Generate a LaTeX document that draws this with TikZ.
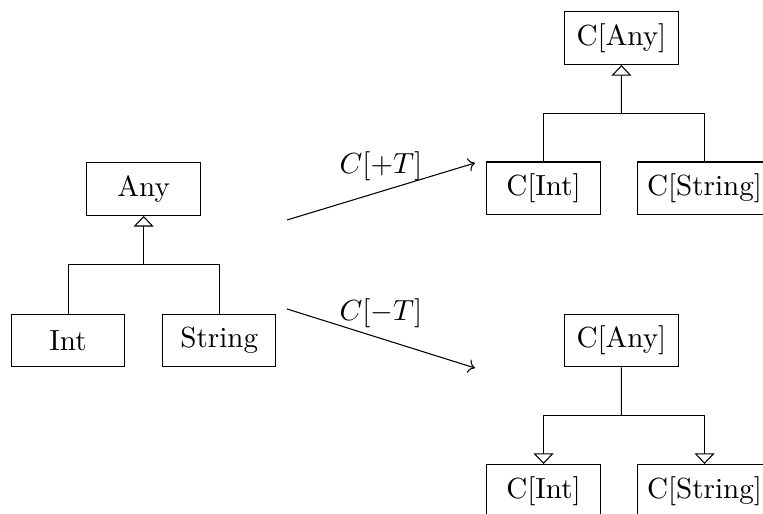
\documentclass[tikz,border=0pt]{standalone}
\usepackage{amsmath}
\usetikzlibrary{arrows, arrows.meta}
\usetikzlibrary{calc}

\tikzset{
  typebox/.style={rectangle, draw, minimum width=1.5cm, minimum height=0.7cm},
  extends/.style={-{Triangle[open, width=7.5pt, length=4pt]}}
}

\begin{document}
\fontsize{10.95pt}{13.6pt}\selectfont
\begin{tikzpicture}
  \useasboundingbox (0,0) rectangle (10.093,6.799);

  \node[typebox] (any) at (1.9,4.3) {Any};
  \node[typebox] (int) at (0.9,2.295) {Int};
  \node[typebox] (string) at (2.9,2.295) {String};

  \node[typebox] (covany) at (8.22,6.296) {C[Any]};
  \node[typebox] (covint) at (7.19,4.306) {C[Int]};
  \node[typebox] (covstring) at (9.32,4.306) {C[String]};

  \node[typebox] (contany) at (8.22,2.295) {C[Any]};
  \node[typebox] (contint) at (7.19,0.304) {C[Int]};
  \node[typebox] (contstring) at (9.32,0.304) {C[String]};

  % hierarchy on the left
  \coordinate (j1) at ($(any.south)!0.5!(any.south |- int.north)$);
  \draw (int.north) |- (j1) -| (string.north);
  \draw[extends] (j1) -- (any.south);

  % covariant
  \coordinate (j2) at ($(covany.south)!0.5!(covany.south |- covint.north)$);
  \draw (covint.north) |- (j2) -| (covstring.north);
  \draw[extends] (j2) -- (covany.south);

  % contravariant
  \coordinate (j3) at ($(contany.south)!0.5!(contany.south |- contint.north)$);
  \draw (contany.south) -- (j3);
  \draw[extends] (j3) -| (contint.north);
  \draw[extends] (j3) -| (contstring.north);

  \coordinate (covstart) at (3.796,3.889);
  \coordinate (covend) at (6.283,4.643);
  \coordinate (contstart) at (3.796,2.712);
  \coordinate (contend) at (6.283,1.931);
  \draw[->] (covstart) -- node[above] {$C[+T]$} (covend);
  \draw[->] (contstart) -- node[above] {$C[-T]$} (contend);
\end{tikzpicture}
\end{document}
